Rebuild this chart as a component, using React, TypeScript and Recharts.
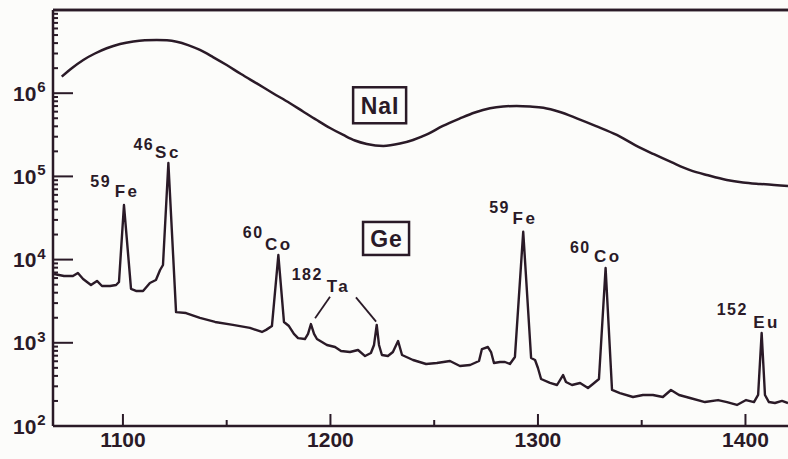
import React from 'react';
import { ComposedChart, Line, XAxis, YAxis, ReferenceDot, ReferenceLine } from 'recharts';

const INK = '#2a1a27';
const BG = '#fcfcfa';
const FONT = '"Liberation Sans", Arial, sans-serif';

// NaI spectrum (energy keV, counts)
const NAI_E = [1070.5,1075.5,1080.9,1086.5,1092.2,1098.6,1105.0,1110.6,1116.3,1121.2,1125.9,1131.4,1137.1,1143.4,1150.0,1156.9,1164.5,1172.3,1180.5,1186.8,1193.4,1199.8,1206.2,1211.8,1217.5,1225.5,1233.5,1239.8,1246.5,1254.2,1262.4,1269.6,1276.9,1283.2,1289.7,1296.2,1302.6,1310.6,1318.7,1328.0,1338.0,1346.8,1355.6,1364.6,1373.3,1382.0,1391.0,1398.8,1407.0,1413.8,1420.5];
const NAI_C = [1.58e6,2.01e6,2.51e6,3.0e6,3.47e6,3.90e6,4.18e6,4.32e6,4.36e6,4.32e6,4.16e6,3.79e6,3.31e6,2.72e6,2.18e6,1.70e6,1.31e6,1.0e6,7.57e5,6.03e5,4.76e5,3.82e5,3.15e5,2.70e5,2.45e5,2.32e5,2.48e5,2.74e5,3.19e5,4.04e5,4.97e5,5.86e5,6.59e5,6.92e5,7.02e5,6.92e5,6.70e5,5.94e5,4.99e5,4.03e5,3.15e5,2.38e5,1.86e5,1.47e5,1.19e5,1.03e5,9.06e4,8.45e4,8.11e4,7.89e4,7.68e4];

// Ge spectrum (energy keV, counts)
const GE_E = [1066.8,1071.6,1075.9,1078.3,1080.8,1084.6,1087.5,1089.9,1093.8,1096.7,1098.1,1100.5,1103.9,1106.3,1109.7,1113.0,1115.9,1117.9,1119.3,1121.9,1125.6,1130.4,1137.1,1144.4,1153.0,1161.2,1167.0,1169.0,1171.8,1174.9,1177.6,1180.0,1182.4,1184.4,1187.7,1189.2,1190.6,1192.1,1193.5,1198.3,1202.2,1205.1,1209.4,1213.3,1216.7,1219.5,1221.0,1222.3,1223.4,1224.8,1227.7,1230.1,1232.6,1234.5,1239.8,1246.1,1251.3,1257.6,1262.4,1267.3,1271.6,1273.0,1275.9,1277.4,1278.8,1281.7,1284.1,1286.5,1288.9,1292.9,1296.7,1298.6,1300.0,1301.5,1305.8,1309.2,1312.1,1313.5,1316.4,1320.3,1324.1,1326.5,1329.4,1332.6,1335.7,1339.5,1345.8,1350.6,1355.4,1360.2,1364.1,1368.0,1373.3,1380.5,1386.8,1391.1,1395.9,1400.3,1404.1,1406.1,1407.8,1409.4,1411.3,1414.2,1417.6,1420.5];
const GE_C = [6710,6350,6350,6900,5850,4950,5540,4820,4820,4950,5380,45300,4440,4200,4200,5240,5690,7500,8610,144800,2340,2280,1990,1780,1640,1510,1350,1430,1590,11340,1780,1590,1280,1140,1110,1280,1680,1280,1110,940,890,797,775,819,693,753,942,1640,942,713,693,775,1050,713,621,556,571,604,526,541,604,841,890,775,571,588,588,556,675,21630,656,621,498,367,329,311,410,338,311,329,286,320,367,7920,271,249,223,236,236,223,271,236,217,194,205,194,179,205,194,236,1310,236,194,189,200,189];

// Axis ranges and ticks
const X_MIN = 1066.3;
const X_MAX = 1420.5;
const X_TICKS = [1100, 1150, 1200, 1250, 1300, 1350, 1400];
const X_LABELS = [1100, 1200, 1300, 1400];
const Y_DECADES = [100, 1000, 10000, 100000, 1000000, 10000000];
const Y_LABEL_EXP = ['2', '3', '4', '5', '6'];
const Y_MINOR_MULT = [2, 3, 4, 5, 6, 7, 8, 9];
const Y_RIGHT_TICKS = [500, 1000, 5000, 10000, 50000, 100000, 500000, 1000000, 5000000];
const Y_TOP = 10000000;

// Peak annotations
const PEAK_MASS = ['59', '46', '60', '182', '59', '60', '152'];
const PEAK_ELEM = ['Fe', 'Sc', 'Co', 'Ta', 'Fe', 'Co', 'Eu'];
const PEAK_INDEX = [11, 19, 29, 36, 69, 83, 100];
// leader lines for 182Ta (energy, counts)
const TA_LEADERS = [
  [[1199.8, 3580], [1192.6, 1970]],
  [[1212.3, 3520], [1222.0, 1795]],
];
// boxed detector labels (center energy, counts)
const BOX_TEXT = ['NaI', 'Ge'];
const BOX_POS = [[1223.7, 7.16e5], [1226.8, 17950]];

// layout (pixels) for annotations: [supDx, supDy, mainDx, mainDy]
const LABEL_OFFSETS = [
  [-33.6, -18, -9.3, -8],
  [-35, -13, -13.3, -4.7],
  [-35.6, -17, -13.3, -5],
  [-19.3, -44, 15.7, -32],
  [-34, -18.7, -10.6, -7.7],
  [-35.7, -15, -11.7, -6],
  [-45, -18, -8.4, -5],
];
const BOX_SIZE = [[53, 36], [46, 33]];

const naiData = NAI_E.map((e, i) => ({ e, v: NAI_C[i] }));
const geData = GE_E.map((e, i) => ({ e, v: GE_C[i] }));

const yLeftTicks = [
  ...Y_DECADES,
  ...Y_DECADES.slice(0, -1).flatMap((d) => Y_MINOR_MULT.map((m) => m * d)),
].sort((a, b) => a - b);

const isDecade = (v: number) => Math.abs(Math.log10(v) - Math.round(Math.log10(v))) < 1e-6;

const LeftTick = (props: any) => {
  const { x, y, payload } = props;
  const v = payload.value;
  const major = isDecade(v);
  const li = Y_DECADES.indexOf(v);
  return (
    <g>
      <line x1={x} x2={x + (major ? 20 : 5)} y1={y} y2={y} stroke={INK} strokeWidth={2} />
      {major && li >= 0 && li < Y_LABEL_EXP.length && (
        <text x={x - 40} y={y + 7.5} fill={INK} fontFamily={FONT} fontWeight="bold" fontSize={21}>
          10
          <tspan dx={1} dy={-8.5} fontSize={15}>{Y_LABEL_EXP[li]}</tspan>
        </text>
      )}
    </g>
  );
};

const RightTick = (props: any) => {
  const { x, y, payload } = props;
  const major = isDecade(payload.value);
  return <line x1={x} x2={x - (major ? 15 : 5)} y1={y} y2={y} stroke={INK} strokeWidth={2} />;
};

const BottomTick = (props: any) => {
  const { x, y, payload } = props;
  const major = X_LABELS.includes(payload.value);
  return (
    <g>
      <line x1={x} x2={x} y1={y} y2={y - (major ? 12 : 6)} stroke={INK} strokeWidth={2} />
      {major && (
        <text x={x} y={y + 20.7} textAnchor="middle" fill={INK} fontFamily={FONT} fontWeight="bold" fontSize={21}>
          {payload.value}
        </text>
      )}
    </g>
  );
};

const TopTick = (props: any) => {
  const { x, y, payload } = props;
  const major = X_LABELS.includes(payload.value);
  return <line x1={x} x2={x} y1={y} y2={y + (major ? 13 : 6)} stroke={INK} strokeWidth={2} />;
};

const peakShape = (k: number) => (props: any) => {
  const { cx, cy } = props;
  const [sdx, sdy, mdx, mdy] = LABEL_OFFSETS[k];
  return (
    <g>
      <text x={cx + sdx} y={cy + sdy} fill={INK} fontFamily={FONT} fontWeight="bold" fontSize={16} letterSpacing={1.5}>
        {PEAK_MASS[k]}
      </text>
      <text x={cx + mdx} y={cy + mdy} fill={INK} fontFamily={FONT} fontWeight="bold" fontSize={17} letterSpacing={2.5}>
        {PEAK_ELEM[k]}
      </text>
    </g>
  );
};

const boxShape = (k: number) => (props: any) => {
  const { cx, cy } = props;
  const [w, h] = BOX_SIZE[k];
  return (
    <g>
      <rect x={cx - w / 2} y={cy - h / 2} width={w} height={h} fill="none" stroke={INK} strokeWidth={2.5} />
      <text x={cx + 0.5} y={cy + 8.3} textAnchor="middle" fill={INK} fontFamily={FONT} fontWeight="bold" fontSize={23} letterSpacing={1}>
        {BOX_TEXT[k]}
      </text>
    </g>
  );
};

export default function App() {
  return (
    <div style={{ position: 'absolute', left: 0, top: 0, width: 788, height: 459, background: BG }}>
      <ComposedChart width={788} height={459} margin={{ top: 9, right: 0, bottom: 0, left: 0 }}>
        <XAxis
          xAxisId="b"
          dataKey="e"
          type="number"
          domain={[X_MIN, X_MAX]}
          allowDataOverflow
          ticks={X_TICKS}
          interval={0}
          height={33}
          tickSize={0}
          tickMargin={0}
          tickLine={false}
          axisLine={{ stroke: INK, strokeWidth: 2.5 }}
          tick={<BottomTick />}
        />
        <XAxis
          xAxisId="t"
          orientation="top"
          type="number"
          domain={[X_MIN, X_MAX]}
          allowDataOverflow
          ticks={X_TICKS}
          interval={0}
          height={1}
          tickSize={0}
          tickMargin={0}
          tickLine={false}
          axisLine={{ stroke: INK, strokeWidth: 2.5 }}
          tick={<TopTick />}
        />
        <YAxis
          yAxisId="l"
          type="number"
          scale="log"
          domain={[100, Y_TOP]}
          allowDataOverflow
          ticks={yLeftTicks}
          interval={0}
          width={53}
          tickSize={0}
          tickMargin={0}
          tickLine={false}
          axisLine={{ stroke: INK, strokeWidth: 2.5 }}
          tick={<LeftTick />}
        />
        <YAxis
          yAxisId="r"
          orientation="right"
          type="number"
          scale="log"
          domain={[100, Y_TOP]}
          allowDataOverflow
          ticks={Y_RIGHT_TICKS}
          interval={0}
          width={0}
          tickSize={0}
          tickMargin={0}
          tickLine={false}
          axisLine={false}
          tick={<RightTick />}
        />
        <ReferenceLine
          xAxisId="b"
          yAxisId="l"
          segment={[{ x: X_MIN, y: Y_TOP * 0.999 }, { x: X_MAX, y: Y_TOP * 0.999 }]}
          stroke={INK}
          strokeWidth={2.5}
          ifOverflow="visible"
        />
        <Line
          xAxisId="b"
          yAxisId="l"
          data={naiData}
          dataKey="v"
          type="monotone"
          stroke={INK}
          strokeWidth={2.5}
          dot={false}
          activeDot={false}
          isAnimationActive={false}
        />
        <Line
          xAxisId="b"
          yAxisId="l"
          data={geData}
          dataKey="v"
          type="linear"
          stroke={INK}
          strokeWidth={2.4}
          strokeLinejoin="round"
          dot={false}
          activeDot={false}
          isAnimationActive={false}
        />
        {TA_LEADERS.map((seg, i) => (
          <ReferenceLine
            key={'ta' + i}
            xAxisId="b"
            yAxisId="l"
            segment={[{ x: seg[0][0], y: seg[0][1] }, { x: seg[1][0], y: seg[1][1] }]}
            stroke={INK}
            strokeWidth={1.8}
          />
        ))}
        {PEAK_INDEX.map((idx, k) => (
          <ReferenceDot
            key={'pk' + k}
            xAxisId="b"
            yAxisId="l"
            x={GE_E[idx]}
            y={GE_C[idx]}
            r={1}
            shape={peakShape(k)}
          />
        ))}
        {BOX_POS.map((p, k) => (
          <ReferenceDot
            key={'bx' + k}
            xAxisId="b"
            yAxisId="l"
            x={p[0]}
            y={p[1]}
            r={1}
            shape={boxShape(k)}
          />
        ))}
      </ComposedChart>
    </div>
  );
}
